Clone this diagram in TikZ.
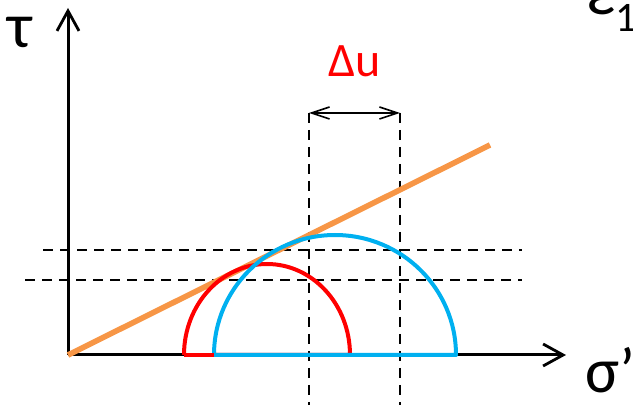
\documentclass[tikz,border=0pt]{standalone}
\usepackage{fontspec}
\setmainfont{Carlito}
\usetikzlibrary{arrows.meta}
\definecolor{mcRed}{HTML}{FF0000}
\definecolor{mcBlue}{HTML}{00B0F0}
\definecolor{mcOrange}{HTML}{F79646}

\begin{document}
\begin{tikzpicture}[
      x=0.5pt, y=-0.5pt,
      every node/.style={inner sep=0pt, outer sep=0pt},
      axis/.style={line width=1.5pt, -{Straight Barb[length=10pt, width=11pt, line width=1.4pt]}},
      guide/.style={line width=1.3pt, dash pattern=on 5pt off 3.5pt},
      span/.style={line width=0.8pt, {Straight Barb[length=9pt, width=6pt, line width=0.8pt]}-{Straight Barb[length=9pt, width=6pt, line width=0.8pt]}},
      bigsym/.style={font=\fontsize{32}{36}\selectfont},
      circ/.style={line width=2pt, line join=round}
    ]
    \useasboundingbox (0,0) rectangle (633,411);

    % --- axes ---
    \coordinate (O) at (68,355);
    \coordinate (ytop) at (68,8);
    \coordinate (xend) at (566,355);
    \draw[axis] (O) -- (ytop);
    \draw[axis] (O) -- (xend);

    \node[bigsym] (tau) at (20,32) {τ};
    \node[bigsym, anchor=base west] (sig) at (585,393) {σ’};
    \node[bigsym, anchor=base west] (eps) at (586,15)
         {ε\raisebox{-8.5pt}{\fontsize{21}{22}\selectfont 1}};

    % --- guide lines ---
    \coordinate (hA1) at (43,250);  \coordinate (hA2) at (522,250);
    \coordinate (hB1) at (25,280);  \coordinate (hB2) at (522,280);
    \coordinate (vA1) at (309,113); \coordinate (vA2) at (309,405);
    \coordinate (vB1) at (400,113); \coordinate (vB2) at (400,405);
    \draw[guide] (hA1) -- (hA2);
    \draw[guide] (hB1) -- (hB2);
    \draw[guide] (vA1) -- (vA2);
    \draw[guide] (vB1) -- (vB2);

    \draw[span] (vA1) -- (vB1);
    \node[font=\fontsize{24}{26}\selectfont, text=mcRed, anchor=base] (du) at (355,77) {Δu};

    % --- envelope ---
    \coordinate (fend) at (490,145);
    \draw[mcOrange, line width=2.8pt] (O) -- (fend);

    % --- Mohr circles ---
    \coordinate (rL) at (184,355); \coordinate (rR) at (350,355);
    \coordinate (bL) at (214,355); \coordinate (bR) at (456,355);
    \draw[circ, mcRed] (rL) arc[start angle=180, end angle=0, x radius=83, y radius=-91] -- (bL);
    \draw[circ, mcBlue] (bL) arc[start angle=180, end angle=0, x radius=121, y radius=-120] -- cycle;
    \draw[circ, mcRed] (rL) -- (bL);
  \end{tikzpicture}
\end{document}
